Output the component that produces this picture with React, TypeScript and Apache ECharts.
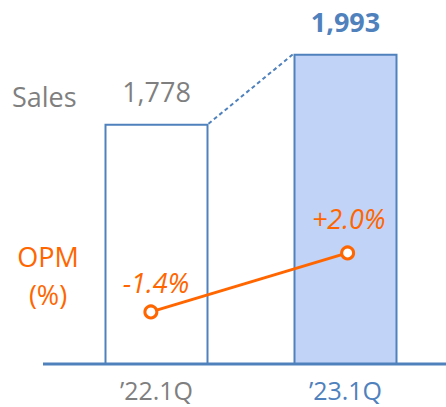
import React, { useEffect, useRef } from "react";
import * as echarts from "echarts";

const categories = ["\u201922.1Q", "\u201923.1Q"];
const salesValues = [1778, 1993];
const salesLabels = ["1,778", "1,993"];
const opmValues = [-1.4, 2.0];
const opmLabels = ["-1.4%", "+2.0%"];

export default function App() {
  const ref = useRef<HTMLDivElement>(null);
  useEffect(() => {
    document.body.style.margin = "0";
    const chart = echarts.init(ref.current!, null, { renderer: "svg" });
    const FONT = "Open Sans";
    const blue = "#4F81BD";
    const gray = "#7F7F7F";
    const orange = "#FF6600";
    const barFrac = 104 / 189;
    const half = barFrac / 2;
    chart.setOption({
      animation: false,
      grid: [
        { left: 62, width: 378, top: 32, height: 332 },
        { left: 52.5, width: 396, top: 32, height: 332 },
      ],
      xAxis: [
        {
          type: "category",
          gridIndex: 0,
          data: categories,
          axisLine: { show: false },
          axisTick: { show: false },
          axisLabel: {
            fontFamily: FONT,
            fontSize: 25,
            lineHeight: 24,
            margin: 14,
            color: (v: string, i: number) => (i === 0 ? gray : blue),
          },
        },
        { type: "value", gridIndex: 0, min: -0.5, max: 1.5, show: false },
        { type: "category", gridIndex: 1, data: categories, show: false },
      ],
      yAxis: [
        { type: "value", gridIndex: 0, min: 1040, max: 2060, show: false },
        { type: "value", gridIndex: 1, min: -4.4, max: 14.73, show: false },
      ],
      series: [
        {
          type: "bar",
          xAxisIndex: 0,
          yAxisIndex: 0,
          barWidth: 104,
          data: salesValues.map((v, i) => ({
            value: v,
            itemStyle: {
              color: i === 0 ? "#FFFFFF" : "#C1D3F6",
              borderColor: blue,
              borderWidth: 2,
            },
            label: {
              show: true,
              position: "top",
              distance: 19,
              formatter: salesLabels[i],
              fontFamily: FONT,
              fontSize: 27,
              fontWeight: i === 0 ? "normal" : "bold",
              color: i === 0 ? gray : blue,
            },
          })),
          z: 1,
        },
        {
          type: "line",
          xAxisIndex: 1,
          yAxisIndex: 0,
          data: [
            [0 + half, salesValues[0]],
            [1 - half, salesValues[1]],
          ],
          symbol: "none",
          lineStyle: { color: blue, width: 2, type: [4, 3] },
          z: 2,
        },
        {
          type: "line",
          xAxisIndex: 2,
          yAxisIndex: 1,
          data: opmValues.map((v, i) => ({
            value: v,
            label: {
              show: true,
              position: "top",
              distance: i === 0 ? 8 : 13,
              offset: i === 0 ? [5, 0] : [1, 0],
              formatter: opmLabels[i],
              fontFamily: FONT,
              fontSize: 27,
              fontStyle: "italic",
              color: orange,
            },
          })),
          symbol: "circle",
          symbolSize: 12,
          itemStyle: { color: "#FFFFFF", borderColor: orange, borderWidth: 3 },
          lineStyle: { color: orange, width: 3 },
          z: 5,
        },
      ],
      graphic: [
        {
          type: "line",
          shape: { x1: 43, y1: 364, x2: 446, y2: 364 },
          style: { stroke: blue, lineWidth: 3 },
          z: 10,
        },
        {
          type: "text",
          x: 12,
          y: 96,
          style: {
            text: "Sales",
            fontFamily: FONT,
            fontSize: 27,
            fill: gray,
            verticalAlign: "middle",
            align: "left",
          },
        },
        {
          type: "text",
          x: 48,
          y: 256,
          style: {
            text: "OPM",
            fontFamily: FONT,
            fontSize: 27,
            fill: orange,
            verticalAlign: "middle",
            align: "center",
          },
        },
        {
          type: "text",
          x: 48,
          y: 294,
          style: {
            text: "(%)",
            fontFamily: FONT,
            fontSize: 27,
            fill: orange,
            verticalAlign: "middle",
            align: "center",
          },
        },
      ],
    });
    return () => chart.dispose();
  }, []);
  return <div ref={ref} style={{ width: 446, height: 407 }} />;
}
